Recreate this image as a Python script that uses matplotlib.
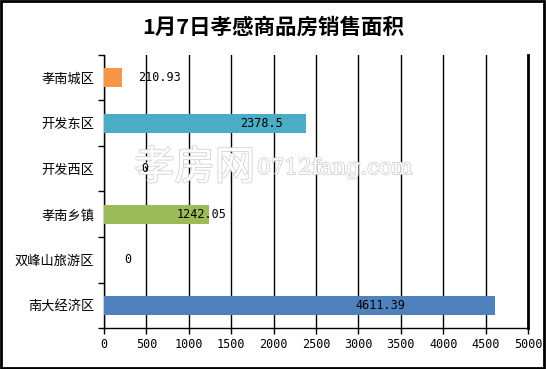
import matplotlib
matplotlib.use("Agg")
import matplotlib.pyplot as plt
import matplotlib.patheffects as pe

plt.rcParams['font.family'] = ['Noto Sans CJK SC', 'DejaVu Sans']

categories = ['孝南城区', '开发东区', '开发西区', '孝南乡镇', '双峰山旅游区', '南大经济区']
values = [210.93, 2378.5, 0, 1242.05, 0, 4611.39]
value_labels = ['210.93', '2378.5', '0', '1242.05', '0', '4611.39']
colors = ['#F79646', '#4BACC6', '#4BACC6', '#9BBB59', '#9BBB59', '#4F81BD']
label_x = [660, 1863, 483, 1156, 283, 3255]
xticks = list(range(0, 5001, 500))
title = '1月7日孝感商品房销售面积'

fig = plt.figure(figsize=(5.46, 3.69), dpi=100)
fig.patch.set_facecolor('white')
# outer frame
fig.add_artist(plt.Rectangle((0.002, 0.003), 0.995, 0.993, transform=fig.transFigure,
                             fill=False, edgecolor='black', linewidth=2))

ax = fig.add_axes([104/546, 1-328/369, (528-104)/546, (328-55)/369])
n = len(categories)
ypos = list(range(n))
ax.barh(ypos, values, height=0.41, color=colors, zorder=3)
ax.set_ylim(n-0.5, -0.5)
ax.set_xlim(0, 5000)
ax.set_xticks(xticks)
ax.set_xticklabels([str(t) for t in xticks], family='DejaVu Sans Mono', fontsize=8.5)
ax.set_yticks(ypos)
ax.set_yticklabels(categories, fontsize=9.5)
ax.set_yticks([i - 0.5 for i in range(n + 1)], minor=True)
ax.tick_params(axis='y', which='major', length=0, pad=7)
ax.tick_params(axis='y', which='minor', length=4, direction='out', width=1)
ax.tick_params(axis='x', which='major', length=4, direction='out', width=1, pad=3)
ax.grid(axis='x', color='black', linewidth=1, zorder=1)
ax.spines['top'].set_visible(False)
ax.spines['right'].set_linewidth(2)
for s in ['left', 'bottom']:
    ax.spines[s].set_linewidth(1)

for i, (lx, lab) in enumerate(zip(label_x, value_labels)):
    ax.text(lx, i, lab, ha='center', va='center', fontsize=8.5,
            family='DejaVu Sans Mono', zorder=6)

# watermark (above grid and bars, below value labels)
ax.text(255/546, 1-168/369, '孝房网', fontsize=29, color='white', ha='right', va='center',
        transform=fig.transFigure, clip_on=False,
        path_effects=[pe.withStroke(linewidth=1.2, foreground='#d2d2d2')], zorder=4)
ax.text(257/546, 1-168/369, '0712fang.com', fontsize=15.5, color='white', ha='left', va='center',
        family='DejaVu Serif', transform=fig.transFigure, clip_on=False,
        path_effects=[pe.withStroke(linewidth=1.2, foreground='#d2d2d2')], zorder=4)

fig.text(0.5, 1-27/369, title, ha='center', va='center', fontsize=15.5, fontweight='bold')

fig.savefig('out.png', dpi=100)
